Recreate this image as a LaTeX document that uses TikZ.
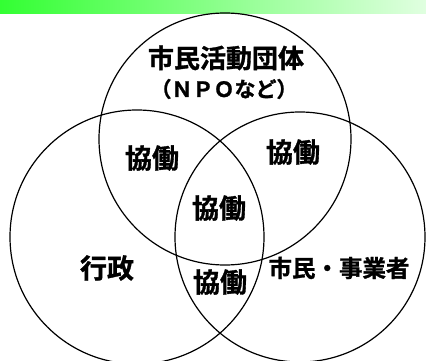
\documentclass[tikz,border=0pt]{standalone}
\usepackage{fontspec}
\newfontfamily\jp{Noto Sans CJK JP Bold}[FakeBold=1.2]
\definecolor{barL}{RGB}{51,255,51}
\definecolor{barR}{RGB}{224,255,224}
\begin{document}
\begin{tikzpicture}[x=1pt,y=-1pt,
  ring/.style={draw=black,line width=1.2pt},
  lbl/.style={font=\jp\fontsize{27}{27}\selectfont,inner sep=0pt},
  sublbl/.style={font=\jp\fontsize{21}{21}\selectfont,inner sep=0pt}]
\useasboundingbox (0,0) rectangle (426,361);
\fill[left color=barL,right color=barR] (0,0) rectangle (426,14);
\draw[ring] (225,139) circle[radius=126];
\draw[ring] (137,237) circle[radius=127];
\draw[ring] (300,237) circle[radius=125];
\node[lbl,font=\jp\fontsize{26}{26}\selectfont] (npo) at (226,58) {市民活動団体};
\node[sublbl] (npo2) at (224,89) {（ＮＰＯなど）};
\node[lbl] (k1) at (152,158) {協働};
\node[lbl] (k2) at (293,152) {協働};
\node[lbl] (k3) at (219,208) {協働};
\node[lbl] (k4) at (220,282) {協働};
\node[lbl] (gov) at (107,268) {行政};
\node[lbl,font=\jp\fontsize{23.5}{23.5}\selectfont] (cit) at (339,268) {市民・事業者};
\end{tikzpicture}
\end{document}
